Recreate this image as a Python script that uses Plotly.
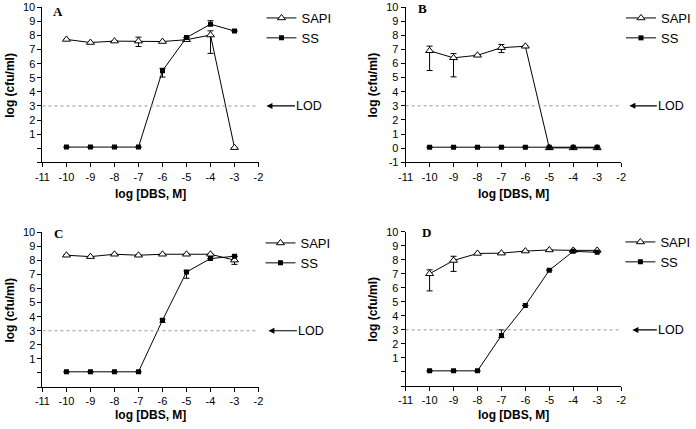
import plotly.graph_objects as go

W, H = 696, 429

# ---------------- data ----------------
x_vals = [-10, -9, -8, -7, -6, -5, -4, -3]

# Panel A
A_sapi = [7.72, 7.5, 7.6, 7.6, 7.57, 7.7, 8.03, 0.04]
A_sapi_up = [0, 0, 0, 0.28, 0, 0, 0.3, 0]
A_sapi_dn = [0, 0, 0, 0.38, 0, 0, 1.3, 0]
A_ss = [0.08, 0.08, 0.08, 0.08, 5.5, 7.85, 8.8, 8.32]
A_ss_up = [0, 0, 0, 0, 0.17, 0, 0.25, 0]
A_ss_dn = [0, 0, 0, 0, 0.45, 0, 0.1, 0]

# Panel B
B_sapi = [6.9, 6.4, 6.58, 7.12, 7.22, 0.02, 0.02, 0.02]
B_sapi_up = [0.33, 0.3, 0, 0.22, 0, 0, 0, 0]
B_sapi_dn = [1.4, 1.35, 0, 0.35, 0, 0, 0, 0]
B_ss = [0.07, 0.07, 0.07, 0.07, 0.07, 0.07, 0.07, 0.07]

# Panel C
C_sapi = [8.37, 8.27, 8.44, 8.37, 8.44, 8.44, 8.44, 8.02]
C_sapi_up = [0, 0, 0, 0, 0, 0, 0, 0.25]
C_sapi_dn = [0, 0, 0, 0, 0, 0, 0, 0.3]
C_ss = [0.08, 0.08, 0.08, 0.08, 3.75, 7.18, 8.13, 8.3]
C_ss_up = [0, 0, 0, 0, 0.08, 0.08, 0, 0]
C_ss_dn = [0, 0, 0, 0, 0.15, 0.45, 0, 0]

# Panel D
D_sapi = [7.0, 7.95, 8.45, 8.47, 8.62, 8.7, 8.67, 8.67]
D_sapi_up = [0.28, 0.3, 0, 0, 0, 0, 0, 0]
D_sapi_dn = [1.22, 0.78, 0, 0, 0, 0, 0, 0]
D_ss = [0.08, 0.08, 0.08, 2.6, 4.74, 7.25, 8.6, 8.53]
D_ss_up = [0, 0, 0, 0.4, 0, 0, 0, 0]
D_ss_dn = [0, 0, 0, 0.15, 0, 0, 0, 0]

lod_value = 3
x_ticks = [-11, -10, -9, -8, -7, -6, -5, -4, -3, -2]
y_ticks = [-1, 0, 1, 2, 3, 4, 5, 6, 7, 8, 9, 10]
panel_labels = ["A", "B", "C", "D"]
series_names = ["SAPI", "SS"]
x_title = "log [DBS, M]"
y_title = "log (cfu/ml)"

# ---------------- layout geometry ----------------
def px_x(p):
    return p / W

def px_y(p):
    return 1 - p / H

dom_x = {"A": [px_x(42.7), px_x(260)], "B": [px_x(408), px_x(624.7)],
         "C": [px_x(42.7), px_x(260)], "D": [px_x(408), px_x(624.7)]}
dom_y = {"A": [px_y(162.3), px_y(7.3)], "B": [px_y(162.3), px_y(7.0)],
         "C": [px_y(387), px_y(232.3)], "D": [px_y(386), px_y(231.7)]}

panels = {
    "A": dict(sapi=A_sapi, su=A_sapi_up, sd=A_sapi_dn, ss=A_ss, qu=A_ss_up, qd=A_ss_dn, full=False),
    "B": dict(sapi=B_sapi, su=B_sapi_up, sd=B_sapi_dn, ss=B_ss, qu=[0] * 8, qd=[0] * 8, full=True),
    "C": dict(sapi=C_sapi, su=C_sapi_up, sd=C_sapi_dn, ss=C_ss, qu=C_ss_up, qd=C_ss_dn, full=False),
    "D": dict(sapi=D_sapi, su=D_sapi_up, sd=D_sapi_dn, ss=D_ss, qu=D_ss_up, qd=D_ss_dn, full=False),
}

font_sans = "Liberation Sans, Arial, sans-serif"
fig = go.Figure()
annotations = []
shapes = []
layout_axes = {}

legend_pos = {"A": (263, 3), "B": (625, 3), "C": (262, 228), "D": (624, 227)}
lod_pos = {"A": (268, 311), "B": (633, 675), "C": (270, 313), "D": (636, 675)}
letter_pos = {"A": (58, 11), "B": (425, 8), "C": (59, 233), "D": (429, 232)}
xtitle_y = {"A": 194, "B": 194, "C": 415, "D": 415}

for i, key in enumerate(["A", "B", "C", "D"]):
    n = "" if i == 0 else str(i + 1)
    xa, ya = "x" + n, "y" + n
    leg = "legend" + n
    p = panels[key]
    fig.add_trace(go.Scatter(
        x=x_vals, y=p["sapi"], name=series_names[0], mode="lines+markers",
        xaxis=xa, yaxis=ya, legend=leg,
        line=dict(color="black", width=1),
        marker=dict(symbol="triangle-up", size=7, color="white", line=dict(color="black", width=1)),
        error_y=dict(type="data", symmetric=False, array=p["su"], arrayminus=p["sd"],
                     color="black", thickness=1, width=3),
    ))
    fig.add_trace(go.Scatter(
        x=x_vals, y=p["ss"], name=series_names[1], mode="lines+markers",
        xaxis=xa, yaxis=ya, legend=leg,
        line=dict(color="black", width=1),
        marker=dict(symbol="square", size=5, color="black"),
        error_y=dict(type="data", symmetric=False, array=p["qu"], arrayminus=p["qd"],
                     color="black", thickness=1, width=3),
    ))
    ytext = [str(v) for v in y_ticks] if p["full"] else [("" if v < 1 else str(v)) for v in y_ticks]
    axis_common = dict(showline=True, linecolor="black", linewidth=1, ticks="outside",
                       ticklen=4, tickcolor="black", showgrid=False, zeroline=False,
                       tickfont=dict(family=font_sans, size=11, color="black"),
                       automargin=False, fixedrange=True)
    layout_axes["xaxis" + n] = dict(axis_common, domain=dom_x[key], range=[-11, -2],
                                    tickvals=x_ticks, ticktext=[str(v) for v in x_ticks],
                                    anchor=ya)
    layout_axes["yaxis" + n] = dict(axis_common, domain=dom_y[key], range=[-1, 10],
                                    tickvals=y_ticks, ticktext=ytext, anchor=xa)
    # LOD dashed line
    shapes.append(dict(type="line", xref=xa + " domain", yref=ya, x0=0, x1=1,
                       y0=lod_value, y1=lod_value,
                       line=dict(color="#999999", width=1, dash="3px,3px")))
    # LOD label with arrow
    tip, txt = lod_pos[key]
    annotations.append(dict(xref="paper", yref=ya, x=px_x(tip), y=lod_value,
                            ax=txt - tip, ay=0, axref="pixel", ayref="pixel",
                            text="LOD", showarrow=True, arrowhead=2, arrowsize=1,
                            arrowwidth=1.2, arrowcolor="black",
                            font=dict(family=font_sans, size=12.5, color="black")))
    # panel letter
    lx, ly = letter_pos[key]
    annotations.append(dict(xref="paper", yref="paper", x=px_x(lx), y=px_y(ly),
                            text="<b>" + key + "</b>", showarrow=False,
                            xanchor="center", yanchor="middle",
                            font=dict(family="Liberation Serif, Times New Roman, serif",
                                      size=13, color="black")))
    # axis titles
    xc = (dom_x[key][0] + dom_x[key][1]) / 2
    annotations.append(dict(xref="paper", yref="paper", x=xc, y=px_y(xtitle_y[key]),
                            text="<b>" + x_title + "</b>", showarrow=False,
                            xanchor="center", yanchor="middle",
                            font=dict(family=font_sans, size=12, color="black")))
    yc = (dom_y[key][0] + dom_y[key][1]) / 2
    ytx = 10 if key in ("A", "C") else 375
    annotations.append(dict(xref="paper", yref="paper", x=px_x(ytx), y=yc,
                            text="<b>" + y_title + "</b>", showarrow=False, textangle=-90,
                            xanchor="center", yanchor="middle",
                            font=dict(family=font_sans, size=12, color="black")))
    # legend
    lgx, lgy = legend_pos[key]
    layout_axes[leg] = dict(x=px_x(lgx), y=px_y(lgy), xanchor="left", yanchor="top",
                            bgcolor="rgba(0,0,0,0)", borderwidth=0,
                            font=dict(family=font_sans, size=13, color="black"),
                            itemwidth=30, tracegroupgap=0)

fig.update_layout(
    width=W, height=H,
    margin=dict(l=0, r=0, t=0, b=0),
    paper_bgcolor="white", plot_bgcolor="white",
    showlegend=True,
    annotations=annotations, shapes=shapes,
    **layout_axes,
)

fig.write_html("out.html", config={"displayModeBar": False},
               post_script="document.body.style.margin='0px';")
